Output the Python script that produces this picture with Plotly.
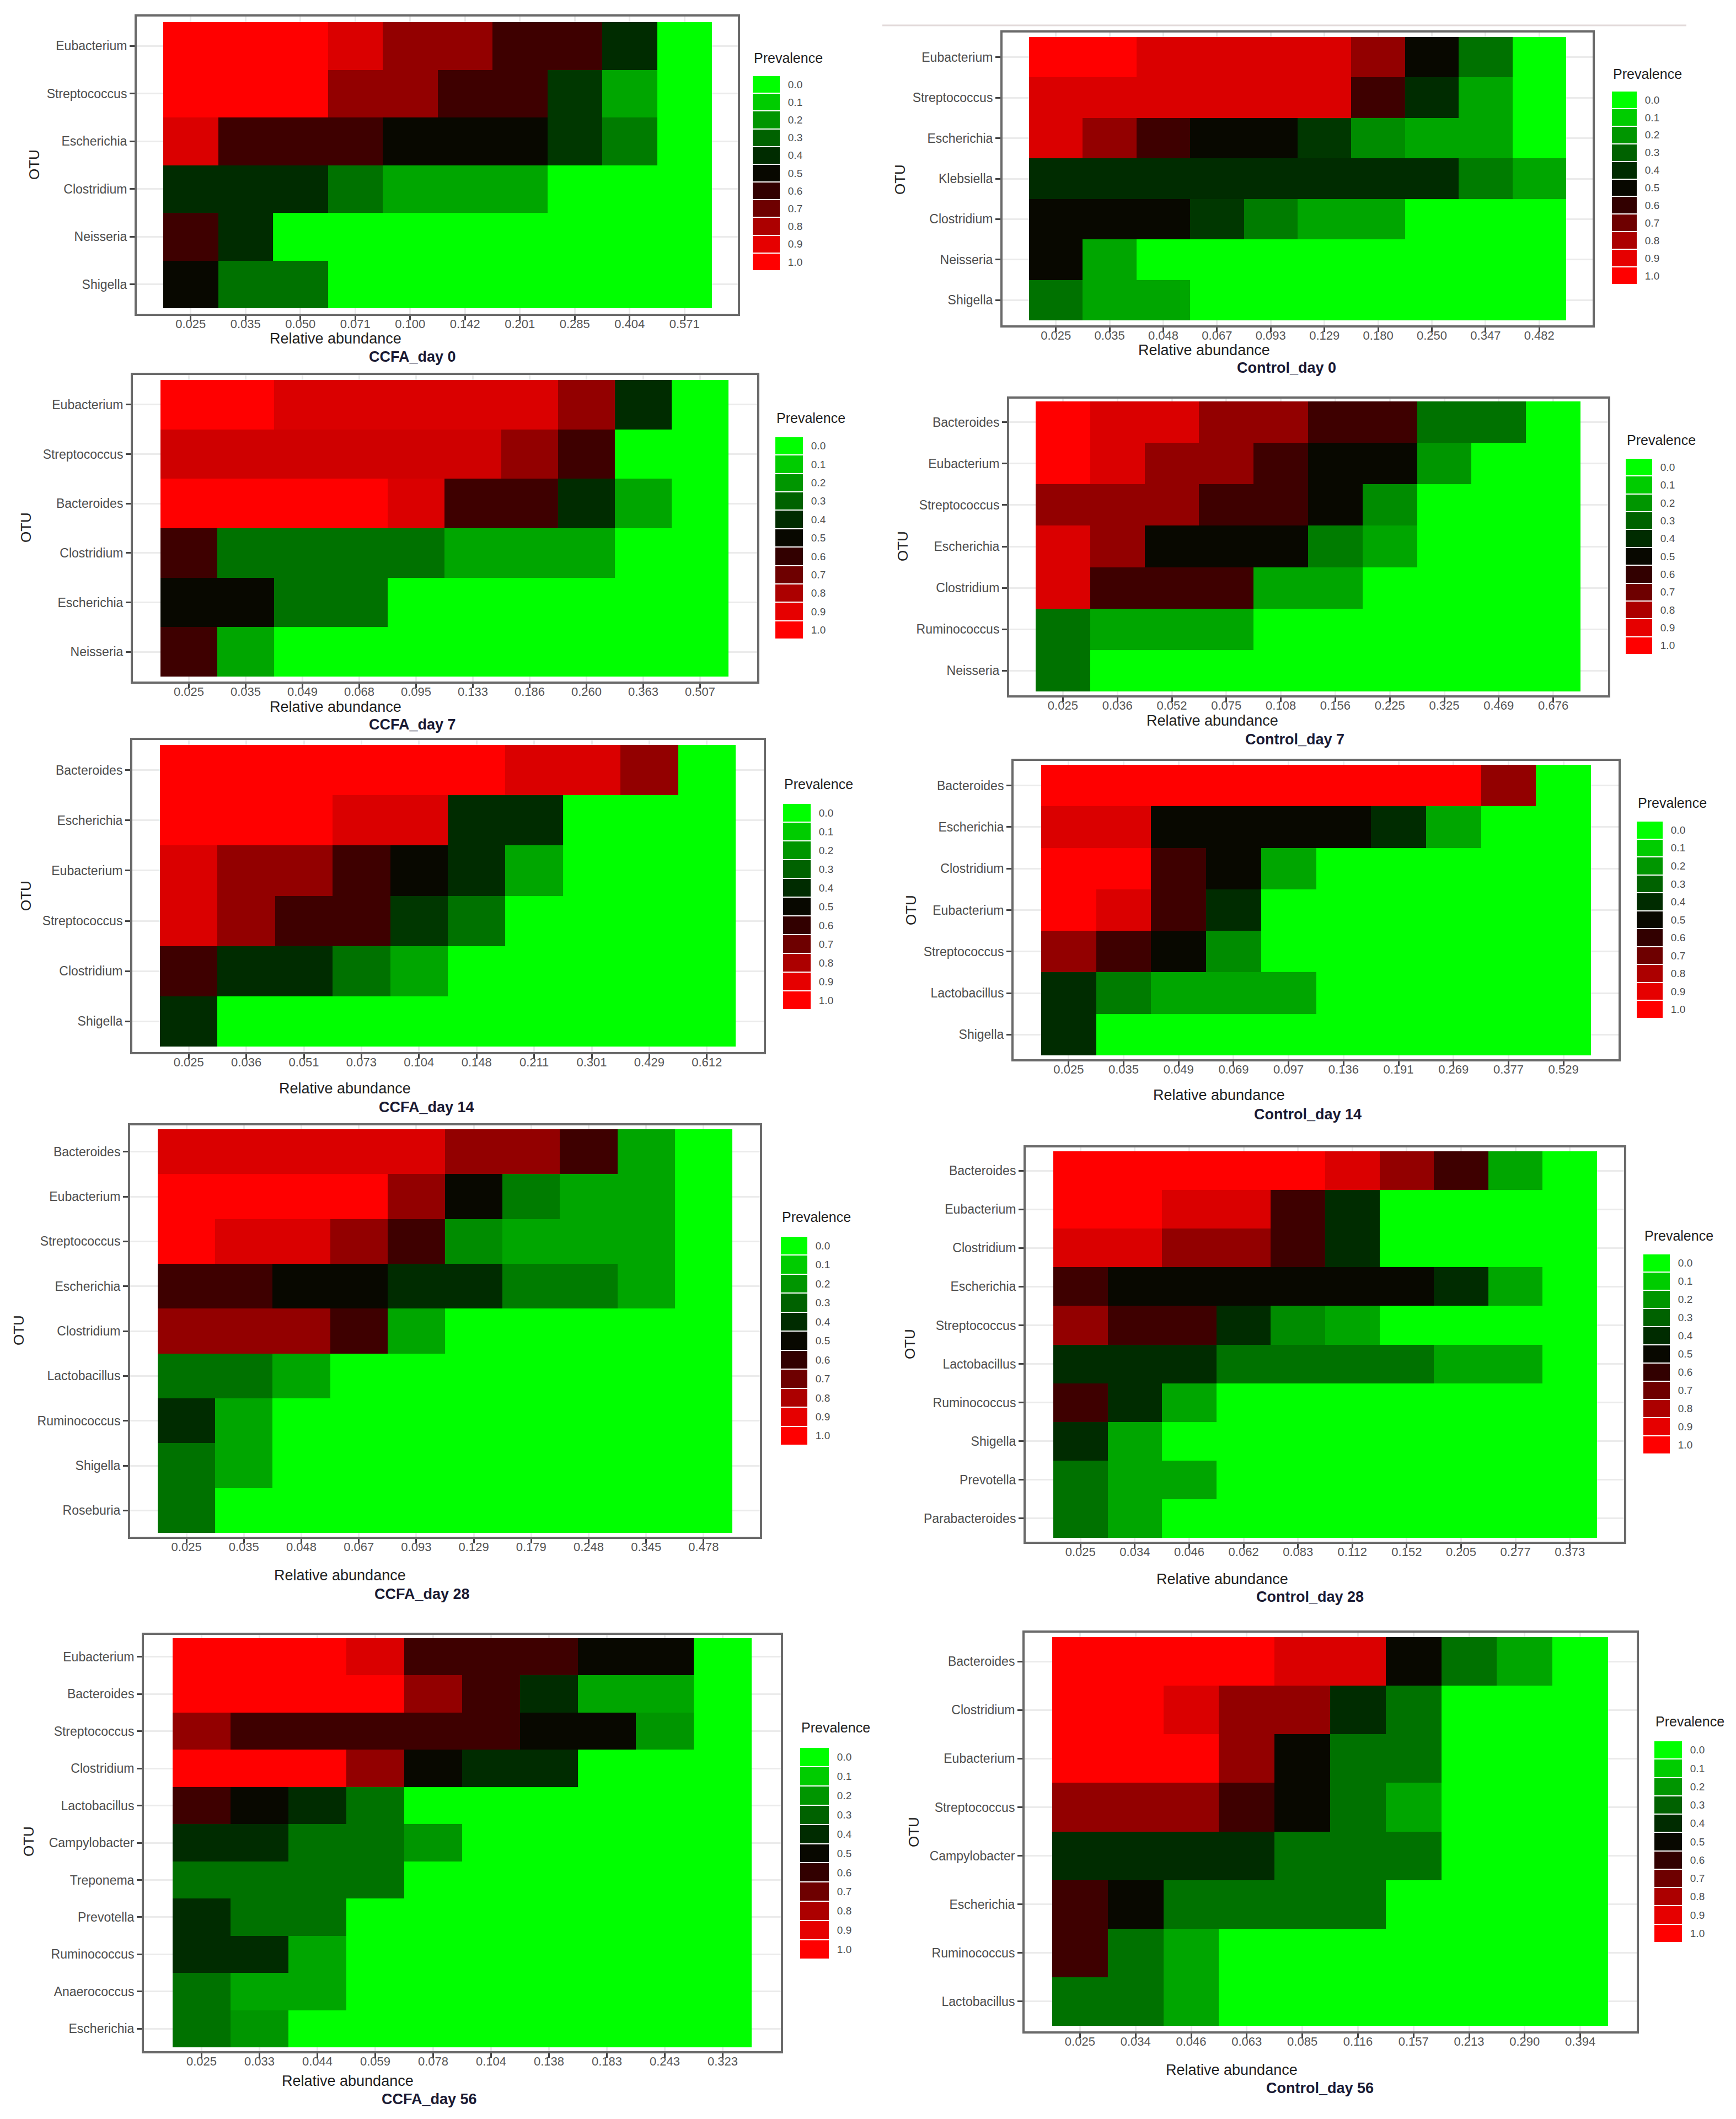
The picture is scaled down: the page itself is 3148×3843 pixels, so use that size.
import plotly.graph_objects as go

W, H = 3148, 3843
FONT = "Liberation Sans, Arial, Helvetica, sans-serif"

# ---------------- data ----------------
prevalence_levels = [0.0, 0.1, 0.2, 0.3, 0.4, 0.5, 0.6, 0.7, 0.8, 0.9, 1.0]
prevalence_labels = ["0.0", "0.1", "0.2", "0.3", "0.4", "0.5", "0.6", "0.7", "0.8", "0.9", "1.0"]

ccfa_d0_otus = ["Eubacterium", "Streptococcus", "Escherichia", "Clostridium", "Neisseria", "Shigella"]
ccfa_d0_abund = ["0.025", "0.035", "0.050", "0.071", "0.100", "0.142", "0.201", "0.285", "0.404", "0.571"]
ccfa_d0_prev = [
    [1.00, 1.00, 1.00, 0.88, 0.76, 0.76, 0.62, 0.62, 0.40, 0.00],
    [1.00, 1.00, 1.00, 0.76, 0.76, 0.62, 0.62, 0.38, 0.17, 0.00],
    [0.88, 0.62, 0.62, 0.62, 0.50, 0.50, 0.50, 0.38, 0.25, 0.00],
    [0.40, 0.40, 0.40, 0.27, 0.17, 0.17, 0.17, 0.00, 0.00, 0.00],
    [0.62, 0.40, 0.00, 0.00, 0.00, 0.00, 0.00, 0.00, 0.00, 0.00],
    [0.50, 0.27, 0.27, 0.00, 0.00, 0.00, 0.00, 0.00, 0.00, 0.00],
]

ctrl_d0_otus = ["Eubacterium", "Streptococcus", "Escherichia", "Klebsiella", "Clostridium", "Neisseria", "Shigella"]
ctrl_d0_abund = ["0.025", "0.035", "0.048", "0.067", "0.093", "0.129", "0.180", "0.250", "0.347", "0.482"]
ctrl_d0_prev = [
    [1.00, 1.00, 0.88, 0.88, 0.88, 0.88, 0.76, 0.50, 0.27, 0.00],
    [0.88, 0.88, 0.88, 0.88, 0.88, 0.88, 0.62, 0.40, 0.17, 0.00],
    [0.88, 0.76, 0.62, 0.50, 0.50, 0.38, 0.22, 0.17, 0.17, 0.00],
    [0.40, 0.40, 0.40, 0.40, 0.40, 0.40, 0.40, 0.40, 0.25, 0.17],
    [0.50, 0.50, 0.50, 0.38, 0.25, 0.17, 0.17, 0.00, 0.00, 0.00],
    [0.50, 0.17, 0.00, 0.00, 0.00, 0.00, 0.00, 0.00, 0.00, 0.00],
    [0.27, 0.17, 0.17, 0.00, 0.00, 0.00, 0.00, 0.00, 0.00, 0.00],
]

ccfa_d7_otus = ["Eubacterium", "Streptococcus", "Bacteroides", "Clostridium", "Escherichia", "Neisseria"]
ccfa_d7_abund = ["0.025", "0.035", "0.049", "0.068", "0.095", "0.133", "0.186", "0.260", "0.363", "0.507"]
ccfa_d7_prev = [
    [1.00, 1.00, 0.88, 0.88, 0.88, 0.88, 0.88, 0.76, 0.40, 0.00],
    [0.86, 0.86, 0.86, 0.86, 0.86, 0.86, 0.76, 0.62, 0.00, 0.00],
    [1.00, 1.00, 1.00, 1.00, 0.88, 0.62, 0.62, 0.40, 0.17, 0.00],
    [0.62, 0.27, 0.27, 0.27, 0.27, 0.17, 0.17, 0.17, 0.00, 0.00],
    [0.50, 0.50, 0.27, 0.27, 0.00, 0.00, 0.00, 0.00, 0.00, 0.00],
    [0.62, 0.17, 0.00, 0.00, 0.00, 0.00, 0.00, 0.00, 0.00, 0.00],
]

ctrl_d7_otus = ["Bacteroides", "Eubacterium", "Streptococcus", "Escherichia", "Clostridium", "Ruminococcus", "Neisseria"]
ctrl_d7_abund = ["0.025", "0.036", "0.052", "0.075", "0.108", "0.156", "0.225", "0.325", "0.469", "0.676"]
ctrl_d7_prev = [
    [1.00, 0.88, 0.88, 0.76, 0.76, 0.62, 0.62, 0.27, 0.27, 0.00],
    [1.00, 0.88, 0.76, 0.76, 0.62, 0.50, 0.50, 0.20, 0.00, 0.00],
    [0.76, 0.76, 0.76, 0.62, 0.62, 0.50, 0.22, 0.00, 0.00, 0.00],
    [0.88, 0.76, 0.50, 0.50, 0.50, 0.25, 0.17, 0.00, 0.00, 0.00],
    [0.88, 0.62, 0.62, 0.62, 0.17, 0.17, 0.00, 0.00, 0.00, 0.00],
    [0.27, 0.17, 0.17, 0.17, 0.00, 0.00, 0.00, 0.00, 0.00, 0.00],
    [0.27, 0.00, 0.00, 0.00, 0.00, 0.00, 0.00, 0.00, 0.00, 0.00],
]

ccfa_d14_otus = ["Bacteroides", "Escherichia", "Eubacterium", "Streptococcus", "Clostridium", "Shigella"]
ccfa_d14_abund = ["0.025", "0.036", "0.051", "0.073", "0.104", "0.148", "0.211", "0.301", "0.429", "0.612"]
ccfa_d14_prev = [
    [1.00, 1.00, 1.00, 1.00, 1.00, 1.00, 0.88, 0.88, 0.76, 0.00],
    [1.00, 1.00, 1.00, 0.88, 0.88, 0.40, 0.40, 0.00, 0.00, 0.00],
    [0.88, 0.76, 0.76, 0.62, 0.50, 0.40, 0.17, 0.00, 0.00, 0.00],
    [0.88, 0.76, 0.62, 0.62, 0.38, 0.27, 0.00, 0.00, 0.00, 0.00],
    [0.62, 0.40, 0.40, 0.27, 0.17, 0.00, 0.00, 0.00, 0.00, 0.00],
    [0.40, 0.00, 0.00, 0.00, 0.00, 0.00, 0.00, 0.00, 0.00, 0.00],
]

ctrl_d14_otus = ["Bacteroides", "Escherichia", "Clostridium", "Eubacterium", "Streptococcus", "Lactobacillus", "Shigella"]
ctrl_d14_abund = ["0.025", "0.035", "0.049", "0.069", "0.097", "0.136", "0.191", "0.269", "0.377", "0.529"]
ctrl_d14_prev = [
    [1.00, 1.00, 1.00, 1.00, 1.00, 1.00, 1.00, 1.00, 0.76, 0.00],
    [0.88, 0.88, 0.50, 0.50, 0.50, 0.50, 0.40, 0.17, 0.00, 0.00],
    [1.00, 1.00, 0.62, 0.50, 0.17, 0.00, 0.00, 0.00, 0.00, 0.00],
    [1.00, 0.88, 0.62, 0.40, 0.00, 0.00, 0.00, 0.00, 0.00, 0.00],
    [0.76, 0.62, 0.50, 0.22, 0.00, 0.00, 0.00, 0.00, 0.00, 0.00],
    [0.40, 0.25, 0.17, 0.17, 0.17, 0.00, 0.00, 0.00, 0.00, 0.00],
    [0.40, 0.00, 0.00, 0.00, 0.00, 0.00, 0.00, 0.00, 0.00, 0.00],
]

ccfa_d28_otus = ["Bacteroides", "Eubacterium", "Streptococcus", "Escherichia", "Clostridium",
                 "Lactobacillus", "Ruminococcus", "Shigella", "Roseburia"]
ccfa_d28_abund = ["0.025", "0.035", "0.048", "0.067", "0.093", "0.129", "0.179", "0.248", "0.345", "0.478"]
ccfa_d28_prev = [
    [0.88, 0.88, 0.88, 0.88, 0.88, 0.76, 0.76, 0.62, 0.17, 0.00],
    [1.00, 1.00, 1.00, 1.00, 0.76, 0.50, 0.25, 0.17, 0.17, 0.00],
    [1.00, 0.88, 0.88, 0.76, 0.62, 0.22, 0.17, 0.17, 0.17, 0.00],
    [0.62, 0.62, 0.50, 0.50, 0.40, 0.40, 0.25, 0.25, 0.17, 0.00],
    [0.76, 0.76, 0.76, 0.62, 0.17, 0.00, 0.00, 0.00, 0.00, 0.00],
    [0.27, 0.27, 0.17, 0.00, 0.00, 0.00, 0.00, 0.00, 0.00, 0.00],
    [0.40, 0.17, 0.00, 0.00, 0.00, 0.00, 0.00, 0.00, 0.00, 0.00],
    [0.27, 0.17, 0.00, 0.00, 0.00, 0.00, 0.00, 0.00, 0.00, 0.00],
    [0.27, 0.00, 0.00, 0.00, 0.00, 0.00, 0.00, 0.00, 0.00, 0.00],
]

ctrl_d28_otus = ["Bacteroides", "Eubacterium", "Clostridium", "Escherichia", "Streptococcus",
                 "Lactobacillus", "Ruminococcus", "Shigella", "Prevotella", "Parabacteroides"]
ctrl_d28_abund = ["0.025", "0.034", "0.046", "0.062", "0.083", "0.112", "0.152", "0.205", "0.277", "0.373"]
ctrl_d28_prev = [
    [1.00, 1.00, 1.00, 1.00, 1.00, 0.88, 0.76, 0.62, 0.17, 0.00],
    [1.00, 1.00, 0.88, 0.88, 0.62, 0.40, 0.00, 0.00, 0.00, 0.00],
    [0.88, 0.88, 0.76, 0.76, 0.62, 0.40, 0.00, 0.00, 0.00, 0.00],
    [0.62, 0.50, 0.50, 0.50, 0.50, 0.50, 0.50, 0.40, 0.17, 0.00],
    [0.76, 0.62, 0.62, 0.40, 0.22, 0.17, 0.00, 0.00, 0.00, 0.00],
    [0.40, 0.40, 0.40, 0.27, 0.27, 0.27, 0.27, 0.17, 0.17, 0.00],
    [0.62, 0.40, 0.17, 0.00, 0.00, 0.00, 0.00, 0.00, 0.00, 0.00],
    [0.40, 0.17, 0.00, 0.00, 0.00, 0.00, 0.00, 0.00, 0.00, 0.00],
    [0.27, 0.17, 0.17, 0.00, 0.00, 0.00, 0.00, 0.00, 0.00, 0.00],
    [0.27, 0.17, 0.00, 0.00, 0.00, 0.00, 0.00, 0.00, 0.00, 0.00],
]

ccfa_d56_otus = ["Eubacterium", "Bacteroides", "Streptococcus", "Clostridium", "Lactobacillus", "Campylobacter",
                 "Treponema", "Prevotella", "Ruminococcus", "Anaerococcus", "Escherichia"]
ccfa_d56_abund = ["0.025", "0.033", "0.044", "0.059", "0.078", "0.104", "0.138", "0.183", "0.243", "0.323"]
ccfa_d56_prev = [
    [1.00, 1.00, 1.00, 0.88, 0.62, 0.62, 0.62, 0.50, 0.50, 0.00],
    [1.00, 1.00, 1.00, 1.00, 0.76, 0.62, 0.40, 0.17, 0.17, 0.00],
    [0.76, 0.62, 0.62, 0.62, 0.62, 0.62, 0.50, 0.50, 0.20, 0.00],
    [1.00, 1.00, 1.00, 0.76, 0.50, 0.40, 0.40, 0.00, 0.00, 0.00],
    [0.62, 0.50, 0.40, 0.27, 0.00, 0.00, 0.00, 0.00, 0.00, 0.00],
    [0.40, 0.40, 0.27, 0.27, 0.20, 0.00, 0.00, 0.00, 0.00, 0.00],
    [0.27, 0.27, 0.27, 0.27, 0.00, 0.00, 0.00, 0.00, 0.00, 0.00],
    [0.40, 0.27, 0.27, 0.00, 0.00, 0.00, 0.00, 0.00, 0.00, 0.00],
    [0.40, 0.40, 0.17, 0.00, 0.00, 0.00, 0.00, 0.00, 0.00, 0.00],
    [0.27, 0.17, 0.17, 0.00, 0.00, 0.00, 0.00, 0.00, 0.00, 0.00],
    [0.27, 0.20, 0.00, 0.00, 0.00, 0.00, 0.00, 0.00, 0.00, 0.00],
]

ctrl_d56_otus = ["Bacteroides", "Clostridium", "Eubacterium", "Streptococcus", "Campylobacter",
                 "Escherichia", "Ruminococcus", "Lactobacillus"]
ctrl_d56_abund = ["0.025", "0.034", "0.046", "0.063", "0.085", "0.116", "0.157", "0.213", "0.290", "0.394"]
ctrl_d56_prev = [
    [1.00, 1.00, 1.00, 1.00, 0.88, 0.88, 0.50, 0.27, 0.17, 0.00],
    [1.00, 1.00, 0.88, 0.76, 0.76, 0.40, 0.27, 0.00, 0.00, 0.00],
    [1.00, 1.00, 1.00, 0.76, 0.50, 0.27, 0.27, 0.00, 0.00, 0.00],
    [0.76, 0.76, 0.76, 0.62, 0.50, 0.27, 0.17, 0.00, 0.00, 0.00],
    [0.40, 0.40, 0.40, 0.40, 0.27, 0.27, 0.27, 0.00, 0.00, 0.00],
    [0.62, 0.50, 0.27, 0.27, 0.27, 0.27, 0.00, 0.00, 0.00, 0.00],
    [0.62, 0.27, 0.17, 0.00, 0.00, 0.00, 0.00, 0.00, 0.00, 0.00],
    [0.27, 0.27, 0.17, 0.00, 0.00, 0.00, 0.00, 0.00, 0.00, 0.00],
]

panel_titles = ["CCFA_day 0", "Control_day 0", "CCFA_day 7", "Control_day 7", "CCFA_day 14",
                "Control_day 14", "CCFA_day 28", "Control_day 28", "CCFA_day 56", "Control_day 56"]

# ---------------- styling / layout geometry (pixels) ----------------
colorscale = [[0.0, "#00ff00"], [0.1, "#00cc00"], [0.2, "#009600"], [0.3, "#006200"],
              [0.4, "#002c00"], [0.5, "#080800"], [0.6, "#320000"], [0.7, "#6e0000"],
              [0.8, "#ac0000"], [0.9, "#e60000"], [1.0, "#ff0000"]]

# frame(x0,x1,y0,y1), heat(x0,x1,y0,y1), legend blocks(x0,x1,y0,y1), legend title(x,y),
# x title(x,y), panel title(x,y), OTU(x,y)
geoms = [
    dict(f=(240, 1330, 22, 561), h=(288, 1283, 32, 551), l=(1357, 1406, 129, 483), lt=(1357, 107),
         xt=(600, 616), t=(740, 649), o=(60, 291)),
    dict(f=(1810, 2880, 51, 582), h=(1858, 2832, 59, 573), l=(2915, 2960, 157, 508), lt=(2915, 136),
         xt=(2175, 637), t=(2325, 669), o=(1630, 318)),
    dict(f=(233, 1365, 672, 1228), h=(283, 1313, 681, 1219), l=(1398, 1448, 784, 1151), lt=(1398, 760),
         xt=(600, 1284), t=(740, 1316), o=(45, 949)),
    dict(f=(1822, 2908, 715, 1253), h=(1870, 2858, 720, 1246), l=(2940, 2988, 823, 1179), lt=(2940, 800),
         xt=(2190, 1309), t=(2340, 1343), o=(1635, 983)),
    dict(f=(232, 1377, 1334, 1900), h=(282, 1326, 1343, 1890), l=(1412, 1462, 1449, 1823), lt=(1412, 1424),
         xt=(617, 1976), t=(765, 2010), o=(45, 1617)),
    dict(f=(1830, 2927, 1372, 1913), h=(1880, 2877, 1379, 1906), l=(2960, 3007, 1481, 1839), lt=(2960, 1458),
         xt=(2202, 1988), t=(2363, 2023), o=(1650, 1643)),
    dict(f=(228, 1370, 2033, 2779), h=(278, 1320, 2040, 2772), l=(1408, 1456, 2234, 2613), lt=(1408, 2209),
         xt=(608, 2859), t=(757, 2893), o=(32, 2405)),
    dict(f=(1852, 2937, 2073, 2788), h=(1902, 2888, 2080, 2781), l=(2972, 3020, 2266, 2629), lt=(2972, 2243),
         xt=(2208, 2866), t=(2367, 2898), o=(1648, 2430)),
    dict(f=(253, 1408, 2957, 3712), h=(305, 1355, 2963, 3705), l=(1443, 1495, 3161, 3545), lt=(1443, 3135),
         xt=(622, 3776), t=(770, 3809), o=(50, 3332)),
    dict(f=(1850, 2960, 2953, 3676), h=(1900, 2908, 2961, 3666), l=(2992, 3042, 3149, 3515), lt=(2992, 3124),
         xt=(2225, 3756), t=(2385, 3789), o=(1655, 3315)),
]

panels = [
    (ccfa_d0_otus, ccfa_d0_abund, ccfa_d0_prev),
    (ctrl_d0_otus, ctrl_d0_abund, ctrl_d0_prev),
    (ccfa_d7_otus, ccfa_d7_abund, ccfa_d7_prev),
    (ctrl_d7_otus, ctrl_d7_abund, ctrl_d7_prev),
    (ccfa_d14_otus, ccfa_d14_abund, ccfa_d14_prev),
    (ctrl_d14_otus, ctrl_d14_abund, ctrl_d14_prev),
    (ccfa_d28_otus, ccfa_d28_abund, ccfa_d28_prev),
    (ctrl_d28_otus, ctrl_d28_abund, ctrl_d28_prev),
    (ccfa_d56_otus, ccfa_d56_abund, ccfa_d56_prev),
    (ctrl_d56_otus, ctrl_d56_abund, ctrl_d56_prev),
]

TEXT_DY = -10   # visual centring correction for annotation text (px)


def fx(px):
    return px / W


def fy(py):
    return 1 - py / H


fig = go.Figure()
layout_axes = {}
annotations = []


def axname(k, letter):
    return f"{letter}axis" if k == 1 else f"{letter}axis{k}"


def axref(k, letter):
    return letter if k == 1 else f"{letter}{k}"


for i, ((otus, abund, prev), g, title) in enumerate(zip(panels, geoms, panel_titles)):
    kh = 2 * i + 1
    kl = 2 * i + 2
    fx0, fx1, fy0, fy1 = g["f"]
    hx0, hx1, hy0, hy1 = g["h"]
    ncol = len(abund)
    nrow = len(otus)
    colw = (hx1 - hx0) / ncol
    rowh = (hy1 - hy0) / nrow
    padL = (hx0 - fx0) / colw
    padR = (fx1 - hx1) / colw
    padT = (hy0 - fy0) / rowh
    padB = (fy1 - hy1) / rowh

    fig.add_trace(go.Heatmap(
        x=abund, y=otus, z=prev, colorscale=colorscale, zmin=0, zmax=1,
        showscale=False, xaxis=axref(kh, "x"), yaxis=axref(kh, "y"),
        hovertemplate="%{y}<br>%{x}: %{z}<extra></extra>"))

    layout_axes[axname(kh, "x")] = dict(
        domain=[fx(fx0), fx(fx1)], anchor=axref(kh, "y"), type="category",
        range=[-0.5 - padL, ncol - 0.5 + padR],
        showline=True, mirror=True, linecolor="#6a6a6a", linewidth=4,
        showgrid=True, gridcolor="#ebebeb", gridwidth=3, zeroline=False,
        ticks="outside", ticklen=8, tickwidth=3, tickcolor="#444",
        ticklabelstandoff=-12,
        tickfont=dict(family=FONT, size=22, color="#555555"))
    layout_axes[axname(kh, "y")] = dict(
        domain=[fy(fy1), fy(fy0)], anchor=axref(kh, "x"), type="category",
        range=[nrow - 0.5 + padB, -0.5 - padT],
        showline=True, mirror=True, linecolor="#6a6a6a", linewidth=4,
        showgrid=True, gridcolor="#ebebeb", gridwidth=3, zeroline=False,
        ticks="outside", ticklen=9, tickwidth=3, tickcolor="#444",
        tickfont=dict(family=FONT, size=23, color="#4d4d4d"))

    # legend (Prevalence key) drawn as a small heatmap
    lx0, lx1, ly0, ly1 = g["l"]
    fig.add_trace(go.Heatmap(
        x=[0], y=prevalence_labels, z=[[v] for v in prevalence_levels],
        colorscale=colorscale, zmin=0, zmax=1, showscale=False, ygap=2,
        xaxis=axref(kl, "x"), yaxis=axref(kl, "y"), hoverinfo="skip"))
    layout_axes[axname(kl, "x")] = dict(
        domain=[fx(lx0), fx(lx1)], anchor=axref(kl, "y"), visible=False,
        range=[-0.5, 0.5])
    layout_axes[axname(kl, "y")] = dict(
        domain=[fy(ly1), fy(ly0)], anchor=axref(kl, "x"), type="category",
        side="right", range=[10.5, -0.5], showline=False, showgrid=False, zeroline=False,
        ticks="outside", ticklen=10, tickcolor="rgba(0,0,0,0)",
        tickfont=dict(family=FONT, size=19, color="#4d4d4d"))

    ltx, lty = g["lt"]
    annotations.append(dict(text="Prevalence", x=fx(ltx), y=fy(lty + TEXT_DY), xref="paper", yref="paper",
                            xanchor="left", yanchor="middle", showarrow=False,
                            font=dict(family=FONT, size=25, color="#222")))
    xtx, xty = g["xt"]
    annotations.append(dict(text="Relative abundance", x=fx(xtx), y=fy(xty + TEXT_DY), xref="paper",
                            yref="paper", xanchor="center", yanchor="middle", showarrow=False,
                            font=dict(family=FONT, size=27, color="#222")))
    tx, ty = g["t"]
    annotations.append(dict(text=f"<b>{title}</b>", x=fx(tx), y=fy(ty + TEXT_DY), xref="paper", yref="paper",
                            xanchor="center", yanchor="middle", showarrow=False,
                            font=dict(family=FONT, size=27, color="#1a1a33")))
    ox, oy = g["o"]
    annotations.append(dict(text="OTU", x=fx(ox - 6), y=fy(oy), xref="paper", yref="paper",
                            xanchor="center", yanchor="middle", showarrow=False, textangle=-90,
                            font=dict(family=FONT, size=26, color="#222")))

fig.update_layout(
    width=W, height=H, margin=dict(l=0, r=0, t=0, b=0),
    paper_bgcolor="white", plot_bgcolor="white", showlegend=False,
    font=dict(family=FONT),
    annotations=annotations,
    shapes=[dict(type="line", xref="paper", yref="paper", x0=fx(1592), x1=fx(3050),
                 y0=fy(38), y1=fy(38), line=dict(color="#e2dada", width=3))],
    **layout_axes,
)

fig.write_html("out.html")
